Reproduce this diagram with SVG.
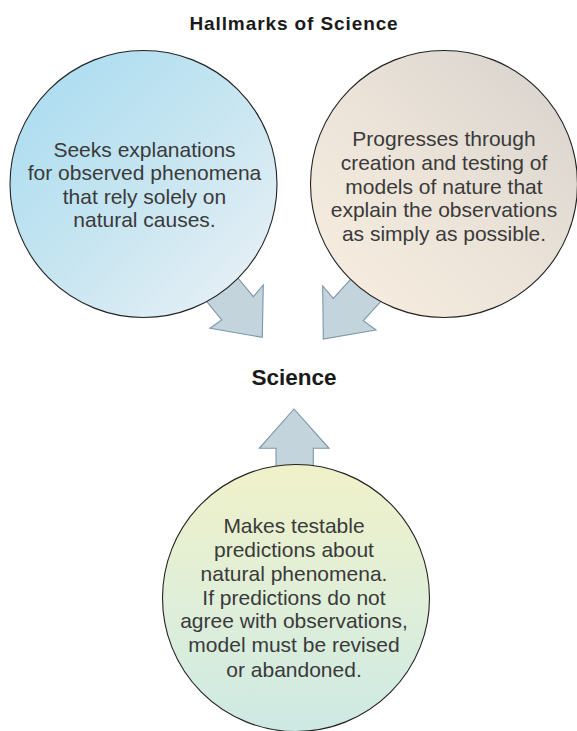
<svg xmlns="http://www.w3.org/2000/svg" width="577" height="731" viewBox="0 0 577 731">
  <defs>
    <linearGradient id="gLeft" x1="0" y1="0" x2="1" y2="1">
      <stop offset="0" stop-color="#a6dbf0"/>
      <stop offset="0.5" stop-color="#c6e5f1"/>
      <stop offset="1" stop-color="#eef2f6"/>
    </linearGradient>
    <linearGradient id="gRight" x1="1" y1="0" x2="0" y2="1">
      <stop offset="0" stop-color="#d6d1cd"/>
      <stop offset="0.5" stop-color="#ebe3d8"/>
      <stop offset="1" stop-color="#f8efe0"/>
    </linearGradient>
    <linearGradient id="gBottom" x1="0" y1="0" x2="0" y2="1">
      <stop offset="0" stop-color="#f0f1c8"/>
      <stop offset="0.5" stop-color="#e0efd8"/>
      <stop offset="1" stop-color="#cde9e3"/>
    </linearGradient>
    <style>
      .circle { stroke: #222; stroke-width: 1.1; }
      .arrow { fill: #c3d4dd; stroke: #7b96a7; stroke-width: 1.1; stroke-linejoin: miter; }
      .body { font-family: "Liberation Sans", Arial, sans-serif; font-size: 21px; fill: #3a3a3a; text-anchor: middle; }
      .head { font-family: "Liberation Sans", Arial, sans-serif; font-weight: bold; fill: #1a1a1a; text-anchor: middle; }
    </style>
  </defs>
  <rect width="577" height="731" fill="#ffffff"/>

  <text class="head" x="294" y="30" font-size="19" letter-spacing="0.9">Hallmarks of Science</text>

  <g id="connectors">
    <polygon class="arrow" points="223,260 253.3,296.7 263.3,285 262.3,337.3 210,328.3 221.7,320 191.7,283"/>
    <polygon class="arrow" points="366.7,261.7 333.3,298.3 322.7,286 323.3,339 376,330 363.3,320.7 396.7,284"/>
    <polygon class="arrow" points="276,495 276,448.3 259.3,448.3 294,409 329,448.3 313.3,448.3 313.3,495"/>
  </g>

  <g id="node-left">
    <circle class="circle" cx="143.5" cy="184" r="133.5" fill="url(#gLeft)"/>
    <text class="body" x="144.5" y="156.7">Seeks explanations</text>
    <text class="body" x="144.5" y="180.3">for observed phenomena</text>
    <text class="body" x="144.5" y="204">that rely solely on</text>
    <text class="body" x="144.5" y="227.3">natural causes.</text>
  </g>

  <g id="node-right">
    <circle class="circle" cx="444" cy="184" r="133.5" fill="url(#gRight)"/>
    <text class="body" x="444" y="146">Progresses through</text>
    <text class="body" x="444" y="170">creation and testing of</text>
    <text class="body" x="444" y="194">models of nature that</text>
    <text class="body" x="444" y="217.3">explain the observations</text>
    <text class="body" x="444" y="240.7">as simply as possible.</text>
  </g>

  <g id="node-science">
    <text class="head" x="294" y="385" font-size="22.5">Science</text>
  </g>

  <g id="node-bottom">
    <circle class="circle" cx="296" cy="598" r="133.5" fill="url(#gBottom)"/>
    <text class="body" x="294" y="533.3">Makes testable</text>
    <text class="body" x="294" y="556.7">predictions about</text>
    <text class="body" x="294" y="580.7">natural phenomena.</text>
    <text class="body" x="294" y="605">If predictions do not</text>
    <text class="body" x="294" y="628.3">agree with observations,</text>
    <text class="body" x="294" y="652.3">model must be revised</text>
    <text class="body" x="294" y="676.7">or abandoned.</text>
  </g>
</svg>
